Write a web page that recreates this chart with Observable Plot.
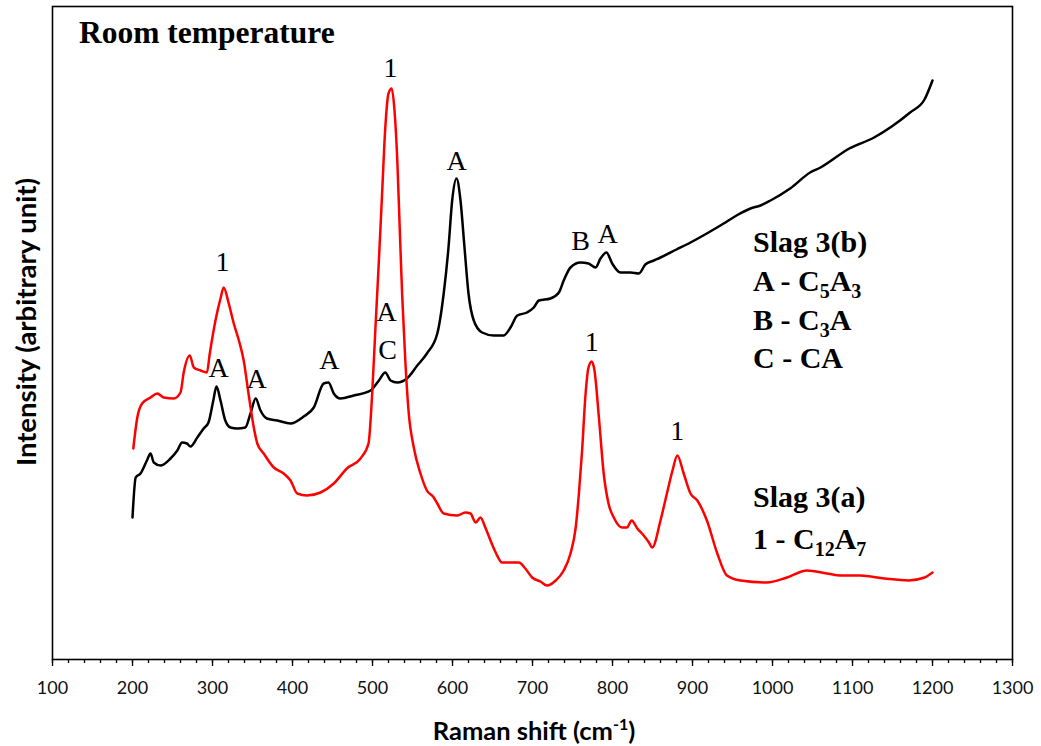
<!DOCTYPE html>
<html>
<head>
<meta charset="utf-8">
<script src="https://cdn.jsdelivr.net/npm/d3@7"></script>
<script src="https://cdn.jsdelivr.net/npm/@observablehq/plot@0.6"></script>
<style>
  html, body { margin: 0; padding: 0; background: #fff; }
  svg { display: block; }
</style>
</head>
<body>
<div id="chart"></div>
<script>
// Raman spectra of slag 3 at room temperature (intensity in arbitrary units)
const shiftB = [200, 204, 210, 218, 222.5, 226.6, 235, 247.5, 256, 262, 268, 272.5, 281, 289, 295, 301, 305, 310, 316, 322.5, 331, 341, 347.5, 354, 360, 368, 381, 397.5, 414, 426.6, 439, 445, 451.6, 460, 476.6, 497.5, 508, 516, 522.5, 531, 543, 556, 568, 581, 589, 595, 599.6, 605, 610, 615, 620, 626.6, 637, 651.6, 664, 672.5, 681, 693, 701.6, 708, 722.5, 733, 739, 747.5, 760, 770, 779, 785, 792.5, 799.6, 810, 822.5, 833, 841, 851.6, 860, 880, 897.5, 920, 939, 955, 972.5, 985, 997.5, 1022, 1047, 1060, 1096, 1127, 1149, 1172, 1190, 1200];
const intensityB = [142, 182, 186, 199, 206, 197, 194, 201, 209, 217, 216, 213, 222, 231, 237, 259, 273, 259, 239, 232, 231, 232, 246, 261, 249, 241, 239, 236, 243, 252, 276, 277, 266, 261, 264, 269, 279, 287, 279, 277, 281, 294, 306, 326, 366, 412, 459, 481, 459, 412, 366, 339, 327, 324, 324, 332, 344, 347, 352, 359, 361, 367, 379, 392, 397, 396, 392, 401, 407, 396, 387, 387, 386, 395, 399, 402, 410, 417, 427, 436, 444, 451, 454, 459, 471, 487, 492, 511, 522, 533, 547, 560, 579];

const shiftA = [201, 206, 212, 222.5, 231, 239, 251.6, 260, 264, 271.6, 276.6, 285, 293, 296.6, 303.7, 310, 314, 320, 326.6, 333, 339, 345, 351.6, 356, 364, 376.6, 389, 397.5, 406, 418, 435, 451.6, 468, 485, 495, 499.6, 503.7, 508, 512, 516, 520, 524, 527.5, 531, 534, 537, 541, 545, 551.6, 560, 568, 576.6, 581, 589, 606, 616, 622.5, 629, 635, 641, 647.5, 654, 662, 672.5, 683, 691, 699.6, 710, 718, 729, 739, 747.5, 754, 758, 762, 766, 770, 774, 777.5, 783, 789, 795, 801.6, 812, 818, 824, 831, 839, 845.6, 849.6, 860, 868, 875, 881, 889, 897.5, 906, 918, 931, 943, 960, 993, 1018, 1043, 1068, 1085, 1110, 1140, 1170, 1190, 1200];
const intensityA = [211, 242, 256, 262, 266, 262, 261, 267, 287, 304, 292, 289, 287, 306, 339, 361, 372, 357, 336, 319, 299, 266, 232, 216, 206, 192, 186, 179, 166, 164, 167, 176, 191, 201, 216, 266, 332, 399, 466, 532, 566, 571, 549, 499, 432, 366, 299, 249, 212, 186, 169, 162, 156, 146, 144, 147, 146, 137, 142, 132, 119, 107, 97, 97, 97, 91, 82, 78, 74, 79, 89, 106, 132, 166, 209, 262, 292, 298, 289, 242, 186, 156, 142, 132, 132, 139, 131, 124, 117, 112, 139, 166, 189, 204, 186, 166, 159, 139, 106, 84, 79, 77, 82, 89, 86, 84, 84, 81, 79, 82, 87];

// Peak assignments written above the bands
const peakText = ["1", "A", "A", "A", "A", "C", "1", "A", "B", "A", "1", "1"];
const peakShift = [312.5, 307.5, 355, 446, 517.5, 519, 522.5, 605, 760, 794, 774, 881];
const peakIntensity = [397, 291, 280, 299, 347, 309, 591, 498, 418, 425, 317, 228];

const xTicks = [100, 200, 300, 400, 500, 600, 700, 800, 900, 1000, 1100, 1200, 1300];
const xMinorTicks = d3.range(100, 1301, 20);

const seriesB = shiftB.map((x, i) => ({x, y: intensityB[i]}));
const seriesA = shiftA.map((x, i) => ({x, y: intensityA[i]}));
const peaks = peakText.map((t, i) => ({t, x: peakShift[i], y: peakIntensity[i]}));

const serif = "'Liberation Serif', 'Times New Roman', serif";
const sans = "Lato, 'Open Sans', sans-serif";

const plot = Plot.plot({
  width: 1041,
  height: 746,
  marginLeft: 52,
  marginRight: 29,
  marginTop: 6,
  marginBottom: 87,
  style: {fontFamily: sans, color: "#000", background: "#fff"},
  x: {domain: [100, 1300]},
  y: {domain: [0, 653], axis: null},
  marks: [
    Plot.axisX({ticks: xMinorTicks, tickSize: 4, tickFormat: () => "", label: null, strokeWidth: 1.3}),
    Plot.axisX({ticks: xTicks, tickSize: 7, tickPadding: 15, fontSize: 18, tickFormat: d3.format("d"), label: null, strokeWidth: 1.3, fill: "#111"}),
    Plot.line(seriesB, {x: "x", y: "y", stroke: "#000", strokeWidth: 2.5, curve: "monotone-x"}),
    Plot.line(seriesA, {x: "x", y: "y", stroke: "#ff0000", strokeWidth: 2.5, curve: "monotone-x"}),
    Plot.text(peaks, {x: "x", y: "y", text: "t", fontFamily: serif, fontSize: 28, fill: "#000"}),
    Plot.frame({stroke: "#000", strokeWidth: 1.6})
  ]
});

const svg = d3.select(plot);

// Panel title
svg.append("text")
  .attr("x", 79).attr("y", 43)
  .attr("text-anchor", "start")
  .attr("font-family", serif).attr("font-weight", "bold").attr("font-size", 31.5)
  .text("Room temperature");

// Phase keys, with subscripts on the oxide formulas
function keyLine(y, parts) {
  const t = svg.append("text")
    .attr("x", 753).attr("y", y)
    .attr("text-anchor", "start")
    .attr("font-family", serif).attr("font-weight", "bold").attr("font-size", 30);
  let lowered = false;
  parts.forEach(([s, sub]) => {
    const ts = t.append("tspan").text(s);
    if (sub && !lowered) { ts.attr("font-size", 20).attr("dy", 7); lowered = true; }
    else if (sub) ts.attr("font-size", 20);
    else if (lowered) { ts.attr("dy", -7); lowered = false; }
  });
}
keyLine(252, [["Slag 3(b)"]]);
keyLine(291, [["A - C"], ["5", true], ["A"], ["3", true]]);
keyLine(330, [["B - C"], ["3", true], ["A"]]);
keyLine(368, [["C - CA"]]);
keyLine(507, [["Slag 3(a)"]]);
keyLine(549, [["1 - C"], ["12", true], ["A"], ["7", true]]);

// Axis titles
const xt = svg.append("text")
  .attr("x", 534).attr("y", 740)
  .attr("text-anchor", "middle")
  .attr("font-family", sans).attr("font-weight", "bold").attr("font-size", 25.5);
xt.append("tspan").text("Raman shift (cm");
xt.append("tspan").text("-1").attr("font-size", 16).attr("dy", -10);
xt.append("tspan").text(")").attr("dy", 10);

svg.append("text")
  .attr("transform", "translate(36,322) rotate(-90)")
  .attr("text-anchor", "middle")
  .attr("font-family", sans).attr("font-weight", "bold").attr("font-size", 27.5)
  .text("Intensity (arbitrary unit)");

document.getElementById("chart").append(plot);
</script>
</body>
</html>
